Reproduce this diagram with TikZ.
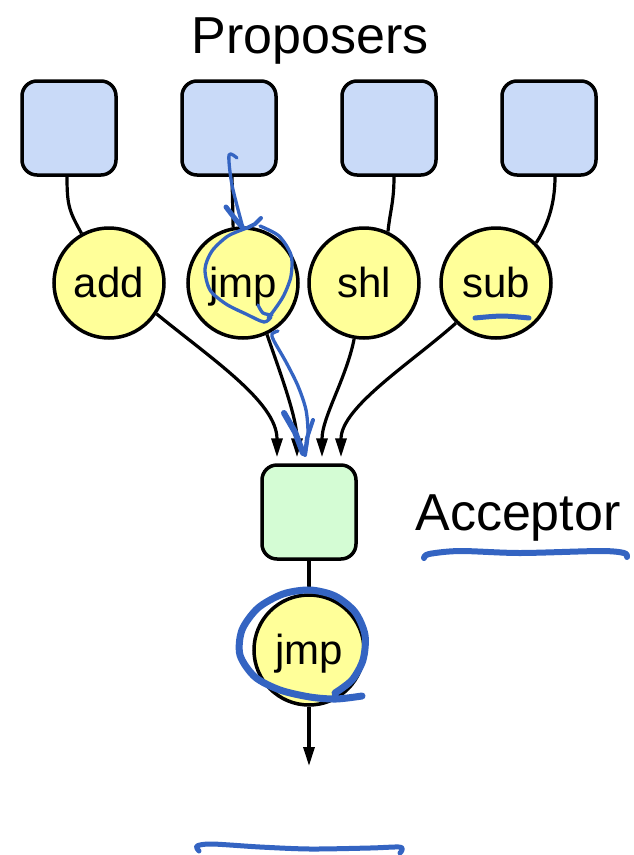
\documentclass[tikz,border=0pt]{standalone}
\usepackage{fontspec}
\setmainfont{Liberation Sans}
\usetikzlibrary{arrows.meta}
\definecolor{propfill}{HTML}{C9DAF8}
\definecolor{opfill}{HTML}{FFFF99}
\definecolor{accfill}{HTML}{D4FCD4}
\definecolor{pen}{HTML}{3464C2}
\begin{document}
\begin{tikzpicture}[x=1pt,y=-1pt,
  proposer/.style={draw,line width=3.5pt,rounded corners=15pt,fill=propfill,
    minimum width=94pt,minimum height=94pt,inner sep=0pt},
  acceptor/.style={proposer,fill=accfill},
  op/.style={circle,draw,line width=3.5pt,fill=opfill,minimum size=110pt,inner sep=0pt,
    font=\fontsize{42}{42}\selectfont,text height=29pt,text depth=0pt},
  title/.style={font=\fontsize{52}{52}\selectfont,anchor=base},
  link/.style={line width=3.2pt},
  feed/.style={link,-{Triangle[length=19pt,width=11pt]}},
  pen/.style={draw=pen,line cap=round,line join=round,line width=3.3pt},
]
\useasboundingbox (0,0) rectangle (633,855);

% labels
\node[title] (proposers) at (310,53) {Proposers};
\node[title] (acclabel) at (518,530) {Acceptor};

% proposer boxes
\node[proposer] (p1) at (69,128) {};
\node[proposer] (p2) at (229,128) {};
\node[proposer] (p3) at (389,128) {};
\node[proposer] (p4) at (549,128) {};

% proposed operations
\node[op] (c1) at (109,283) {add};
\node[op] (c2) at (243,283) {jmp};
\node[op] (c3) at (364,283) {shl};
\node[op] (c4) at (496,283) {sub};

% acceptor and chosen operation
\node[acceptor] (acc) at (309,512) {};
\node[op] (out) at (309,650) {jmp};
\coordinate (outend) at (309,766);

% entry points above the acceptor
\coordinate (in1) at ([xshift=-32pt,yshift=6pt]acc.north);
\coordinate (in2) at ([xshift=-12pt,yshift=6pt]acc.north);
\coordinate (in3) at ([xshift=13pt,yshift=6pt]acc.north);
\coordinate (in4) at ([xshift=32pt,yshift=6pt]acc.north);

% proposers to operations
\draw[link] ([xshift=-2pt]p1.south) .. controls +(0,30) and +(-12,-22) .. (c1.119);
\draw[link] ([xshift=3pt]p2.south) -- (c2.100);
\draw[link] ([xshift=5pt]p3.south) .. controls +(0,25) and +(2,-20) .. (c3.65);
\draw[link] ([xshift=6pt]p4.south) .. controls +(0,30) and +(10,-15) .. (c4.45);

% operations to acceptor
\draw[feed] (c1.-33) .. controls +(55,45) and +(0,-55) .. (in1);
\draw[feed] (c2.-65) .. controls +(12,35) and +(0,-40) .. (in2);
\draw[feed] (c3.-100) .. controls +(-8,40) and +(0,-40) .. (in3);
\draw[feed] (c4.-135) .. controls +(-45,40) and +(0,-50) .. (in4);

% acceptor output
\draw[link] (acc.south) -- (out.north);
\draw[feed] (out.south) -- (outend);

% pen annotations
\draw[pen] plot[smooth] coordinates {(237,158) (229,155) (232,185) (243,228)};
\draw[pen,line width=5pt] (226,207) -- (236,220) -- (243,228);
\draw[pen,line width=4pt] (261,218) -- (255,224) -- (247,228);
\draw[pen] plot[smooth] coordinates {(247,228) (228,236) (212,251) (205,269) (210,290) (226,304) (246,314) (264,322) (271,317)};
\draw[pen] plot[smooth] coordinates {(260,226) (279,236) (291,255) (291,276) (284,295) (275,309) (268,318)};
\draw[pen] plot[smooth] coordinates {(258,305) (263,313) (272,315)};

\draw[pen] plot[smooth] coordinates {(278,331) (272,334) (274,341) (286,362) (298,386) (306,410) (308,435) (305,455)};
\draw[pen,line width=6pt] (284,413) -- (295,432) -- (303,453);
\draw[pen,line width=4pt] (313,420) -- (307,438) -- (305,455);

\draw[pen,line width=5pt] plot[smooth] coordinates {(475,318) (502,316) (529,318)};

\draw[pen,line width=6pt] plot[smooth] coordinates {(424,558) (429,554) (460,551) (520,553) (600,551) (624,553) (627,557)};

\draw[pen,line width=7pt] plot[smooth] coordinates {(362,696) (336,699) (310,697) (280,690) (255,677) (240,655) (242,630) (258,608) (283,594) (310,590) (335,596) (355,612) (365,635) (363,660) (352,680) (335,693)};

\draw[pen,line width=5pt] plot[smooth] coordinates {(199,851) (197,846) (212,844) (260,847) (310,849) (370,848) (399,847) (402,850) (400,853)};
\end{tikzpicture}
\end{document}
